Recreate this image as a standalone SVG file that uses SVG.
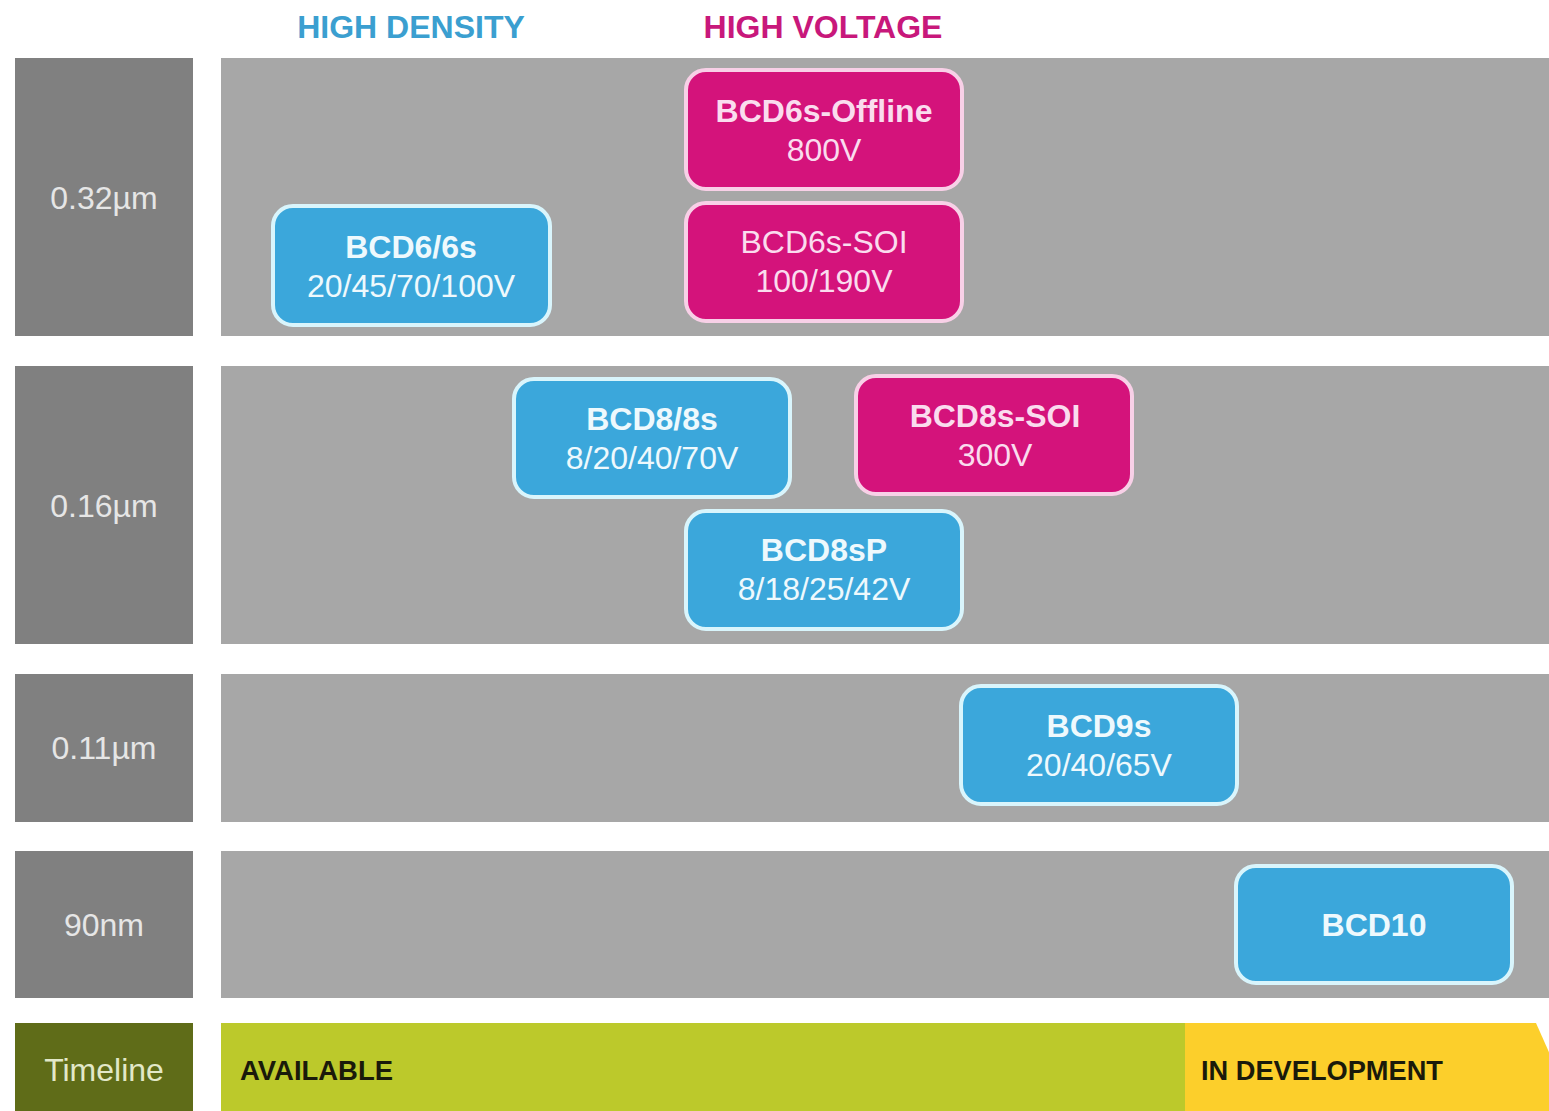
<svg xmlns="http://www.w3.org/2000/svg" width="1549" height="1111" viewBox="0 0 1549 1111">
<style>
  text { font-family: "Liberation Sans", Arial, sans-serif; text-anchor: middle; }
  .lab { fill: #808080; }
  .band { fill: #a7a7a7; }
  .lt { font-size: 32px; fill: #e6e6e6; }
  .blue rect { fill: #3ba7db; stroke: #d9f5fc; stroke-width: 4; }
  .mag rect { fill: #d4137b; stroke: #f8d0e7; stroke-width: 4; }
  .blue text { fill: #eef9fd; font-size: 32px; }
  .mag text { fill: #fadcee; font-size: 32px; }
  .t { font-weight: bold; }
  .hdr { font-size: 32px; font-weight: bold; }
  .tl { font-size: 27px; font-weight: bold; fill: #1a1a0a; text-anchor: start; }
</style>
<rect width="1549" height="1111" fill="#ffffff"/>
<g id="headers">
  <text class="hdr" x="411" y="38" fill="#3b9fd0">HIGH DENSITY</text>
  <text class="hdr" x="823" y="38" fill="#c8187b">HIGH VOLTAGE</text>
</g>
<g id="rows">
  <rect class="lab" x="15" y="58" width="178" height="278"/>
  <rect class="band" x="221" y="58" width="1328" height="278"/>
  <text class="lt" x="104" y="209">0.32µm</text>
  <rect class="lab" x="15" y="366" width="178" height="278"/>
  <rect class="band" x="221" y="366" width="1328" height="278"/>
  <text class="lt" x="104" y="517">0.16µm</text>
  <rect class="lab" x="15" y="674" width="178" height="148"/>
  <rect class="band" x="221" y="674" width="1328" height="148"/>
  <text class="lt" x="104" y="759">0.11µm</text>
  <rect class="lab" x="15" y="851" width="178" height="147"/>
  <rect class="band" x="221" y="851" width="1328" height="147"/>
  <text class="lt" x="104" y="936">90nm</text>
</g>
<g id="timeline">
  <rect x="15" y="1023" width="178" height="88" fill="#5f6c18"/>
  <text class="lt" x="104" y="1081" style="fill:#e2e8c8">Timeline</text>
  <rect x="221" y="1023" width="964" height="88" fill="#bcc92b"/>
  <path d="M1185,1023 H1536 L1575,1111 H1185 Z" fill="#fccf2b"/>
  <text class="tl" x="240" y="1080" textLength="153" lengthAdjust="spacingAndGlyphs">AVAILABLE</text>
  <text class="tl" x="1201" y="1080" textLength="242" lengthAdjust="spacingAndGlyphs">IN DEVELOPMENT</text>
</g>
<g id="connectors"></g>
<g id="bcd6" class="blue">
  <rect x="273" y="206" width="277" height="119" rx="20"/>
  <text class="t" x="411" y="258">BCD6/6s</text>
  <text x="411" y="297">20/45/70/100V</text>
</g>
<g id="bcd6s-offline" class="mag">
  <rect x="686" y="70" width="276" height="119" rx="20"/>
  <text class="t" x="824" y="122">BCD6s-Offline</text>
  <text x="824" y="161">800V</text>
</g>
<g id="bcd6s-soi" class="mag">
  <rect x="686" y="203" width="276" height="118" rx="20"/>
  <text x="824" y="253">BCD6s-SOI</text>
  <text x="824" y="292">100/190V</text>
</g>
<g id="bcd8" class="blue">
  <rect x="514" y="379" width="276" height="118" rx="20"/>
  <text class="t" x="652" y="430">BCD8/8s</text>
  <text x="652" y="469">8/20/40/70V</text>
</g>
<g id="bcd8s-soi" class="mag">
  <rect x="856" y="376" width="276" height="118" rx="20"/>
  <text class="t" x="995" y="427">BCD8s-SOI</text>
  <text x="995" y="466">300V</text>
</g>
<g id="bcd8sp" class="blue">
  <rect x="686" y="511" width="276" height="118" rx="20"/>
  <text class="t" x="824" y="561">BCD8sP</text>
  <text x="824" y="600">8/18/25/42V</text>
</g>
<g id="bcd9s" class="blue">
  <rect x="961" y="686" width="276" height="118" rx="20"/>
  <text class="t" x="1099" y="737">BCD9s</text>
  <text x="1099" y="776">20/40/65V</text>
</g>
<g id="bcd10" class="blue">
  <rect x="1236" y="866" width="276" height="117" rx="20"/>
  <text class="t" x="1374" y="936">BCD10</text>
</g>
</svg>
